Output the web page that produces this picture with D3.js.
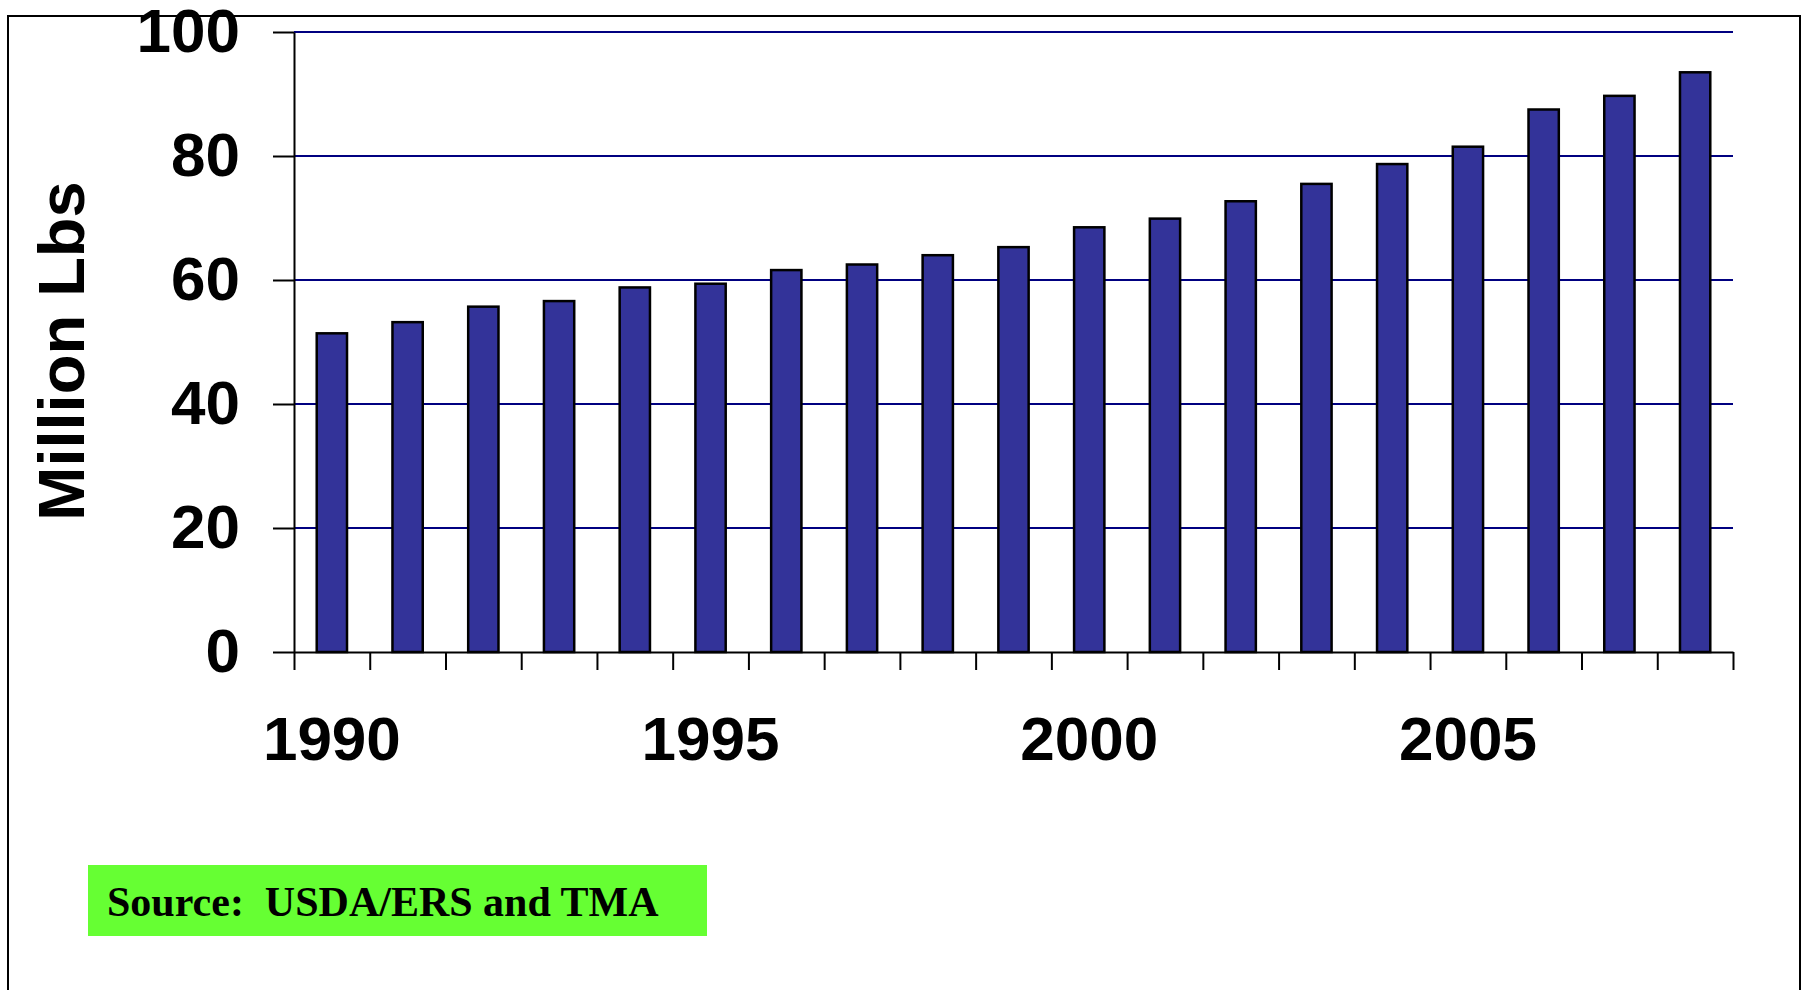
<!DOCTYPE html>
<html>
<head>
<meta charset="utf-8">
<script src="https://cdn.jsdelivr.net/npm/d3@7"></script>
<style>
  body { margin: 0; background: #fff; }
  svg { display: block; }
</style>
</head>
<body>
<svg id="chart" width="1803" height="990"></svg>
<script>
// data
const years = [1990, 1991, 1992, 1993, 1994, 1995, 1996, 1997, 1998, 1999,
               2000, 2001, 2002, 2003, 2004, 2005, 2006, 2007, 2008];
const values = [51.4, 53.2, 55.7, 56.6, 58.8, 59.4, 61.6, 62.5, 64.0, 65.3,
                68.5, 69.9, 72.7, 75.5, 78.7, 81.5, 87.5, 89.7, 93.5];
const yTicks = [0, 20, 40, 60, 80, 100];
const xLabelYears = [1990, 1995, 2000, 2005];
const yTitle = 'Million Lbs';
const sourceText = 'Source:  USDA/ERS and TMA';

const data = years.map((yr, i) => ({ year: yr, value: values[i] }));

const svg = d3.select('#chart');
const plotLeft = 294, plotRight = 1733, plotTop = 32, plotBottom = 652;

// outer frame
svg.append('rect')
  .attr('x', 8).attr('y', 16)
  .attr('width', 1792).attr('height', 1000)
  .attr('fill', 'none').attr('stroke', '#000').attr('stroke-width', 2);

let x = d3.scaleBand().domain(years).range([plotLeft, plotRight])
  .paddingInner(0.6).paddingOuter(0.3);
let xEdge = d3.scaleLinear().domain([0, years.length]).range([plotLeft, plotRight]);
let y = d3.scaleLinear().domain([0, 100]).range([plotBottom, plotTop]);

// gridlines
svg.append('g')
  .selectAll('line')
  .data(yTicks.filter(d => d > 0))
  .join('line')
  .attr('x1', plotLeft).attr('x2', plotRight)
  .attr('y1', d => y(d)).attr('y2', d => y(d))
  .attr('stroke', '#000080').attr('stroke-width', 2.2);

// bars
svg.append('g')
  .selectAll('rect')
  .data(data)
  .join('rect')
  .attr('x', d => x(d.year))
  .attr('y', d => y(d.value))
  .attr('width', x.bandwidth())
  .attr('height', d => y(0) - y(d.value))
  .attr('fill', '#333399')
  .attr('stroke', '#000').attr('stroke-width', 2.5);

const font = 'Liberation Sans, Arial, sans-serif';

// y axis
let yAxis = svg.append('g')
  .attr('transform', `translate(${plotLeft},0)`)
  .call(d3.axisLeft(y).tickValues(yTicks).tickSize(21).tickPadding(33).tickSizeOuter(0));
yAxis.select('.domain').attr('stroke', '#000').attr('stroke-width', 2);
yAxis.selectAll('line').attr('stroke', '#000').attr('stroke-width', 2);
yAxis.selectAll('text')
  .attr('font-family', font).attr('font-weight', 'bold')
  .attr('font-size', 62).attr('fill', '#000');

// x axis: ticks on band edges
let xAxis = svg.append('g')
  .attr('transform', `translate(0,${plotBottom})`)
  .call(d3.axisBottom(xEdge).tickValues(d3.range(years.length + 1))
    .tickSize(18).tickFormat('').tickSizeOuter(0));
xAxis.select('.domain').attr('stroke', '#000').attr('stroke-width', 2);
xAxis.selectAll('line').attr('stroke', '#000').attr('stroke-width', 2);

// x labels
let xLab = svg.append('g')
  .attr('transform', `translate(0,${plotBottom})`)
  .call(d3.axisBottom(x).tickValues(xLabelYears).tickSize(0).tickPadding(64));
xLab.select('.domain').remove();
xLab.selectAll('text')
  .attr('font-family', font).attr('font-weight', 'bold')
  .attr('font-size', 62).attr('fill', '#000');

// y title
svg.append('text')
  .attr('transform', 'translate(84,351) rotate(-90)')
  .attr('text-anchor', 'middle')
  .attr('font-family', font).attr('font-weight', 'bold')
  .attr('font-size', 65)
  .text(yTitle);

// source box
svg.append('rect')
  .attr('x', 88).attr('y', 865)
  .attr('width', 619).attr('height', 71)
  .attr('fill', '#66ff33');
svg.append('text')
  .attr('x', 107).attr('y', 916)
  .attr('font-family', 'Liberation Serif, Times New Roman, serif')
  .attr('font-weight', 'bold').attr('font-size', 42)
  .style('white-space', 'pre')
  .text(sourceText);
</script>
</body>
</html>
